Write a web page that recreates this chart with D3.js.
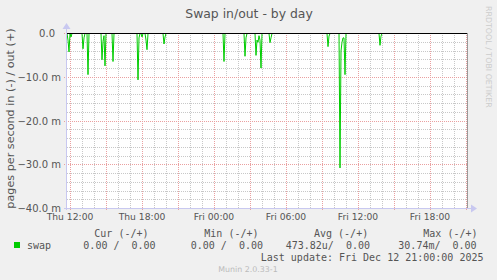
<!DOCTYPE html>
<html>
<head>
<meta charset="utf-8">
<script src="https://cdn.jsdelivr.net/npm/d3@7"></script>
<style>
  body { margin: 0; background: #f0f0f0; }
  svg { display: block; }
  text { font-family: "DejaVu Sans", sans-serif; fill: #555; }
  .mono { font-family: "DejaVu Sans Mono", monospace; white-space: pre; }
  .grid line { shape-rendering: crispEdges; }
</style>
</head>
<body>
<div id="chart"></div>
<script>
// swap in (pages/s), plotted downward; swap out is zero the whole day
var inTimes = [
    "2025-12-11 11:45", "2025-12-11 11:50", "2025-12-11 11:55", "2025-12-11 12:00", "2025-12-11 12:05", "2025-12-11 12:10",
    "2025-12-11 13:00", "2025-12-11 13:05", "2025-12-11 13:10", "2025-12-11 13:15",
    "2025-12-11 13:25", "2025-12-11 13:30", "2025-12-11 13:35",
    "2025-12-11 14:35", "2025-12-11 14:40", "2025-12-11 14:45", "2025-12-11 14:50", "2025-12-11 14:55", "2025-12-11 15:00", "2025-12-11 15:05",
    "2025-12-11 15:30", "2025-12-11 15:35", "2025-12-11 15:40",
    "2025-12-11 17:35", "2025-12-11 17:40", "2025-12-11 17:45", "2025-12-11 17:50", "2025-12-11 17:55", "2025-12-11 18:00", "2025-12-11 18:05",
    "2025-12-11 18:15", "2025-12-11 18:20", "2025-12-11 18:25", "2025-12-11 18:30",
    "2025-12-11 19:45", "2025-12-11 19:50", "2025-12-11 19:55", "2025-12-11 20:00",
    "2025-12-12 00:45", "2025-12-12 00:50", "2025-12-12 00:55",
    "2025-12-12 02:30", "2025-12-12 02:35", "2025-12-12 02:40", "2025-12-12 02:45",
    "2025-12-12 03:25", "2025-12-12 03:30", "2025-12-12 03:35", "2025-12-12 03:40", "2025-12-12 03:45", "2025-12-12 03:50", "2025-12-12 03:55", "2025-12-12 04:00",
    "2025-12-12 04:35", "2025-12-12 04:40", "2025-12-12 04:45", "2025-12-12 04:50",
    "2025-12-12 09:25", "2025-12-12 09:30", "2025-12-12 09:35", "2025-12-12 09:40",
    "2025-12-12 10:25", "2025-12-12 10:30", "2025-12-12 10:35", "2025-12-12 10:40", "2025-12-12 10:45", "2025-12-12 10:50", "2025-12-12 10:55", "2025-12-12 11:00",
    "2025-12-12 13:45", "2025-12-12 13:50", "2025-12-12 13:55", "2025-12-12 14:00",
    "2025-12-12 21:05"
];
var inValues = [
    0, 0.0015, 0.0042, 0, 0.0008, 0,
    0, 0.0035, 0.0010, 0,
    0, 0.0094, 0,
    0, 0.0060, 0.0018, 0.0005, 0.0074, 0, 0,
    0, 0.0064, 0,
    0, 0.0106, 0.0010, 0, 0, 0.0008, 0,
    0, 0.0015, 0.0037, 0,
    0, 0.0024, 0.0008, 0,
    0, 0.0064, 0,
    0, 0.0052, 0.0010, 0,
    0, 0.0050, 0.0015, 0.0020, 0.0005, 0.0015, 0.0079, 0,
    0, 0.0021, 0.0010, 0,
    0, 0.0030, 0.0006, 0,
    0, 0.03074, 0.0040, 0.0020, 0.0010, 0.0010, 0.0094, 0,
    0, 0.0027, 0.0006, 0,
    0
];
var outTimes = ["2025-12-11 11:45", "2025-12-12 21:05"];
var outValues = [0, 0];

var yTicks = [0, -0.01, -0.02, -0.03, -0.04];
var legendHeads = ["Cur (-/+)", "Min (-/+)", "Avg (-/+)", "Max (-/+)"];
var legendVals = ["  0.00 /  0.00", "  0.00 /  0.00", "473.82u/  0.00", " 30.74m/  0.00"];

var parse = d3.timeParse("%Y-%m-%d %H:%M");
var inData = inTimes.map((t, i) => ({t: parse(t), v: -inValues[i]}));
var outData = outTimes.map((t, i) => ({t: parse(t), v: outValues[i]}));

var W = 497, H = 280;
var margin = {left: 67, top: 33};
var width = 400, height = 175;
var L = margin.left, T = margin.top;

var svg = d3.select("#chart").append("svg").attr("width", W).attr("height", H);
svg.append("rect").attr("width", W).attr("height", H).attr("fill", "#f0f0f0");

var x = d3.scaleTime().domain([parse("2025-12-11 11:45"), parse("2025-12-12 21:05")]).range([L, L + width]);
var y = d3.scaleLinear().domain([-0.04, 0]).range([T + height + 0.5, T + 0.5]);
var px = v => Math.floor(v + 1e-6) + 0.5;

svg.append("rect").attr("x", L).attr("y", T).attr("width", width).attr("height", height).attr("fill", "#fff");

// grid: minor lines skip positions where a major line is drawn
var minorX = x.ticks(d3.timeHour.every(1)).filter(d => d.getHours() % 3 !== 0);
var majorX = x.ticks(d3.timeHour.every(3));
var minorY = d3.range(1, 20).filter(i => i % 5 !== 0).map(i => -i * 0.002);

var grid = svg.append("g").attr("class", "grid");
grid.append("g").selectAll("line").data(minorX).enter().append("line")
    .attr("x1", d => px(x(d))).attr("x2", d => px(x(d))).attr("y1", T).attr("y2", T + height)
    .attr("stroke", "#c8c8c8").attr("stroke-dasharray", "1,1");
grid.append("g").selectAll("line").data(minorY).enter().append("line")
    .attr("x1", L).attr("x2", L + width).attr("y1", d => px(y(d))).attr("y2", d => px(y(d)))
    .attr("stroke", "#c8c8c8").attr("stroke-dasharray", "1,1");
grid.append("g").selectAll("line").data(majorX).enter().append("line")
    .attr("x1", d => px(x(d))).attr("x2", d => px(x(d))).attr("y1", T).attr("y2", T + height + 3)
    .attr("stroke", "#eaa0a0").attr("stroke-dasharray", "1,1");
grid.append("g").selectAll("line").data(yTicks).enter().append("line")
    .attr("x1", L - 3).attr("x2", L + width).attr("y1", d => px(y(d))).attr("y2", d => px(y(d)))
    .attr("stroke", "#eaa0a0").attr("stroke-dasharray", "1,1");

// series
var line = d3.line().x(d => x(d.t)).y(d => y(d.v));
svg.append("path").datum(inData).attr("d", line).attr("fill", "none").attr("stroke", "#00cc00").attr("stroke-width", 1);
svg.append("path").datum(outData).attr("d", line).attr("fill", "none").attr("stroke", "#00cc00").attr("stroke-width", 1);
svg.append("line").attr("x1", L).attr("x2", L + width).attr("y1", px(y(0))).attr("y2", px(y(0)))
    .attr("stroke", "#000").attr("stroke-width", 1);

// frame and axes
svg.append("line").attr("x1", px(L + width)).attr("x2", px(L + width)).attr("y1", T).attr("y2", T + height)
    .attr("stroke", "#999");
svg.append("line").attr("x1", px(L - 1)).attr("x2", px(L - 1)).attr("y1", T - 6).attr("y2", T + height + 2)
    .attr("stroke", "#c8c8f0");
svg.append("line").attr("x1", L - 3).attr("x2", L + width + 4).attr("y1", px(T + height)).attr("y2", px(T + height))
    .attr("stroke", "#c8c8f0");
svg.append("path").attr("d", `M${L - 4.5},${T - 4}L${L - 0.5},${T - 10}L${L + 3.5},${T - 4}Z`).attr("fill", "#c8c8f0");
svg.append("path").attr("d", `M${L + width + 4},${T + height - 3.5}L${L + width + 10},${T + height + 0.5}L${L + width + 4},${T + height + 4.5}Z`).attr("fill", "#c8c8f0");

// tick labels
svg.append("g").selectAll("text").data(yTicks).enter().append("text")
    .attr("x", d => d === 0 ? L - 12 : L - 6).attr("y", d => y(d) + 3.5)
    .attr("text-anchor", "end").style("font-size", "10px")
    .text(d => d === 0 ? "0.0" : d3.format(".1f")(d * 1000) + " m");
svg.append("g").selectAll("text").data(x.ticks(d3.timeHour.every(6))).enter().append("text")
    .attr("x", d => x(d)).attr("y", T + height + 12)
    .attr("text-anchor", "middle").style("font-size", "9.2px")
    .text(d3.timeFormat("%a %H:%M"));

svg.append("text").attr("x", 249).attr("y", 17.5).attr("text-anchor", "middle").style("font-size", "12.4px")
    .text("Swap in/out - by day");
svg.append("text").attr("transform", `translate(14,${T + height / 2 - 2}) rotate(-90)`).attr("text-anchor", "middle")
    .style("font-size", "11.2px").text("pages per second in (-) / out (+)");
svg.append("text").attr("transform", "translate(485.5,6) rotate(90)").attr("text-anchor", "start")
    .style("font-size", "7.9px").style("fill", "#ccc").text("RRDTOOL / TOBI OETIKER");

// legend
var headX = [94.3, 204.3, 314, 423.3];
var valX = [71.3, 178.7, 285.7, 392.3];
svg.append("g").selectAll("text").data(legendHeads).enter().append("text").attr("class", "mono")
    .attr("x", (d, i) => headX[i]).attr("y", 237).style("font-size", "10px").text(d => d);
svg.append("rect").attr("x", 14).attr("y", 242).attr("width", 6).attr("height", 6).attr("fill", "#00cc00");
svg.append("text").attr("class", "mono").attr("x", 27).attr("y", 249).style("font-size", "10px").text("swap");
svg.append("g").selectAll("text").data(legendVals).enter().append("text").attr("class", "mono")
    .attr("x", (d, i) => valX[i]).attr("y", 249).style("font-size", "10px").text(d => d);
svg.append("text").attr("class", "mono").attr("x", 483.5).attr("y", 261).attr("text-anchor", "end")
    .style("font-size", "10px").text("Last update: Fri Dec 12 21:00:00 2025");
svg.append("text").attr("x", 248).attr("y", 272).attr("text-anchor", "middle").style("font-size", "7.9px").style("fill", "#bbb")
    .text("Munin 2.0.33-1");
</script>
</body>
</html>
